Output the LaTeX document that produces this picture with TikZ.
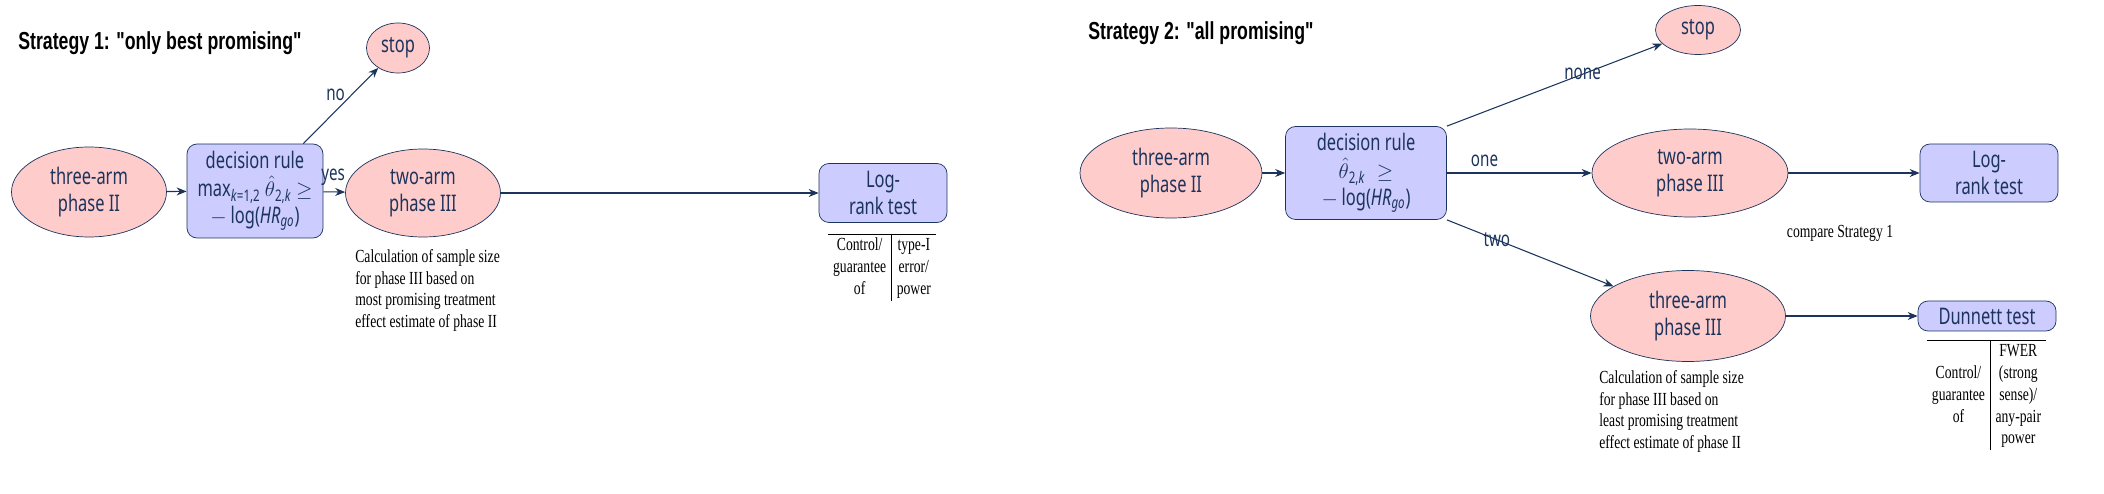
\documentclass[tikz,border=0pt]{standalone}
\usepackage{fontspec}
\usepackage{tikz}
\usetikzlibrary{arrows.meta,positioning,shapes.geometric}
\newfontfamily\nodefont{Noto Sans}[FakeStretch=0.72]
\newfontfamily\notefont{Liberation Serif}[FakeStretch=0.74]
\newfontfamily\headfont{Liberation Sans}[FakeStretch=0.72]
\setlength{\arrayrulewidth}{0.6pt}
\setlength{\tabcolsep}{3pt}
\definecolor{navy}{RGB}{28,52,92}
\definecolor{armpink}{RGB}{255,204,204}
\definecolor{rulelav}{RGB}{204,204,255}
\tikzset{
  phase/.style={ellipse, draw=navy, fill=armpink, text=navy, inner sep=0pt,
                align=center, font=\nodefont\fontsize{13}{15.5}\selectfont},
  rulebox/.style={rectangle, rounded corners=0.2cm, draw=navy, fill=rulelav, text=navy,
                  inner sep=0pt, align=center, font=\nodefont\fontsize{13}{15.5}\selectfont},
  flow/.style={-{Stealth[length=2mm,width=1.6mm]}, navy, semithick},
  lbl/.style={text=navy, font=\nodefont\fontsize{12}{14}\selectfont},
  note/.style={inner sep=0pt, align=left, font=\notefont\fontsize{10.5}{12.4}\selectfont},
  head/.style={inner sep=0pt, anchor=west, font=\headfont\bfseries\fontsize{14}{16}\selectfont},
}

\begin{document}
\begin{tikzpicture}[x=1cm,y=1cm]
  \useasboundingbox (0,0) rectangle (42.08,-9.88);
  % strategy 1
  \node[head] (title1) at (0.36,-0.86) {Strategy 1: "only best promising"};
  \node[phase, minimum width=3.1cm, minimum height=1.8cm] (armII1) at (1.78,-3.84) {three-arm\\phase II};
  \node[rulebox, minimum width=2.72cm, minimum height=1.88cm] (dec1) at (5.10,-3.82)
    {decision rule\\max\textsubscript{\textit{k}=1,2} $\hat{\theta}$\textsubscript{2,\textit{k}} $\geq$\\$-$\,log(\textit{HR}\textsubscript{\textit{go}})};
  \node[phase, minimum width=1.26cm, minimum height=1.0cm] (stop1) at (7.96,-0.96) {stop};
  \node[phase, minimum width=3.1cm, minimum height=1.76cm] (armIII1) at (8.46,-3.86) {two-arm\\phase III};
  \node[rulebox, minimum width=2.56cm, minimum height=1.18cm] (test1) at (17.66,-3.86) {Log-\\rank test};
  \node[note, anchor=north west] (calc1) at (7.10,-4.98)
    {Calculation of sample size\\for phase III based on\\most promising treatment\\effect estimate of phase II};
  \node[note, anchor=north] (ctrl1) at (17.64,-4.68)
    {\begin{tabular}{c|c}\hline
      \begin{tabular}{@{}c@{}}Control/\\guarantee\\of\end{tabular} &
      \begin{tabular}{@{}c@{}}type-I\\error/\\power\end{tabular}
    \end{tabular}};
  \draw[flow] (armII1) -- (dec1);
  \draw[flow] (dec1) -- node[lbl, above, pos=0.45] {yes} (armIII1);
  \draw[flow] ([xshift=-0.4cm]dec1.north east) -- node[lbl, left, pos=0.64] {no} (stop1);
  \draw[flow] (armIII1) -- (test1);

  % strategy 2
  \node[head] (title2) at (21.76,-0.66) {Strategy 2: "all promising"};
  \node[phase, minimum width=3.64cm, minimum height=1.8cm] (armII2) at (23.42,-3.46) {three-arm\\phase II};
  \node[rulebox, minimum width=3.22cm, minimum height=1.86cm] (dec2) at (27.32,-3.46)
    {decision rule\\$\hat{\theta}$\textsubscript{2,\textit{k}}\enspace $\geq$\\$-$\,log(\textit{HR}\textsubscript{\textit{go}})};
  \node[phase, minimum width=1.7cm, minimum height=0.98cm] (stop2) at (33.96,-0.60) {stop};
  \node[phase, minimum width=3.92cm, minimum height=1.76cm] (armIII2) at (33.80,-3.46) {two-arm\\phase III};
  \node[rulebox, minimum width=2.76cm, minimum height=1.16cm] (test2) at (39.78,-3.46) {Log-\\rank test};
  \node[note] (cmp) at (36.80,-4.66) {compare Strategy 1};
  \node[phase, minimum width=3.9cm, minimum height=1.82cm] (arm3III) at (33.76,-6.32) {three-arm\\phase III};
  \node[rulebox, minimum width=2.76cm, minimum height=0.6cm] (dun) at (39.74,-6.32) {Dunnett test};
  \node[note, anchor=north west] (calc2) at (31.98,-7.40)
    {Calculation of sample size\\for phase III based on\\least promising treatment\\effect estimate of phase II};
  \node[note, anchor=north] (ctrl2) at (39.73,-6.80)
    {\begin{tabular}{c|c}\hline
      \begin{tabular}{@{}c@{}}Control/\\guarantee\\of\end{tabular} &
      \begin{tabular}{@{}c@{}}FWER\\(strong\\sense)/\\any-pair\\power\end{tabular}
    \end{tabular}};
  \draw[flow] (armII2) -- (dec2);
  \draw[flow] (dec2.north east) -- node[lbl, pos=0.63] {none} (stop2);
  \draw[flow] (dec2) -- node[lbl, above, pos=0.26] {one} (armIII2);
  \draw[flow] (dec2.south east) -- node[lbl, pos=0.3] {two} (arm3III);
  \draw[flow] (armIII2) -- (test2);
  \draw[flow] (arm3III) -- (dun);
\end{tikzpicture}
\end{document}
